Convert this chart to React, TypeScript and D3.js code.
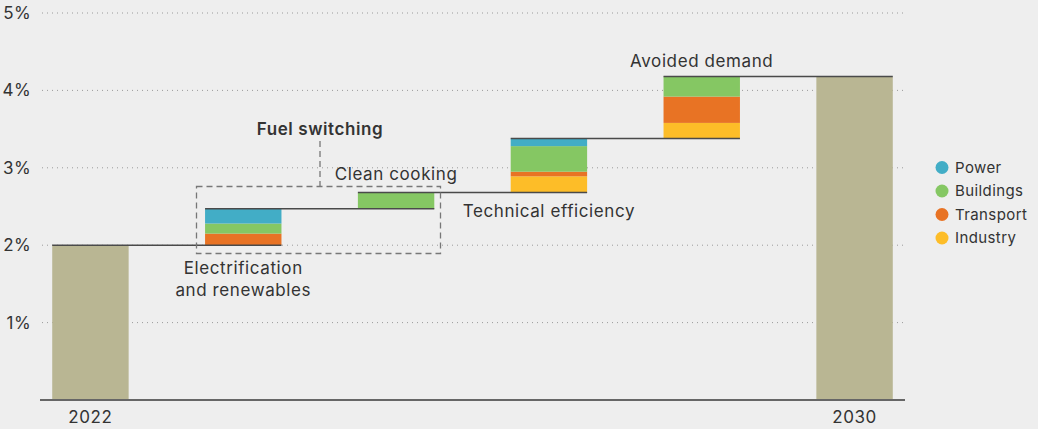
import React, { useEffect } from "react";
import * as d3 from "d3";

const categories = ["2022", "Electrification and renewables", "Clean cooking", "Technical efficiency", "Avoided demand", "2030"];
const sectors = ["Industry", "Transport", "Buildings", "Power"];
const legendOrder = ["Power", "Buildings", "Transport", "Industry"];
const sectorColors = ["#FDBD28", "#E87324", "#85C763", "#42ADC6"];
// contributions (percentage points) per step, in order Industry, Transport, Buildings, Power
const stepIndustry = [0, 0, 0.21, 0.2];
const stepTransport = [0.15, 0, 0.06, 0.34];
const stepBuildings = [0.13, 0.21, 0.33, 0.26];
const stepPower = [0.19, 0, 0.1, 0];
const startValue = 2.0;
const yTicks = [1, 2, 3, 4, 5];

const W = 1038;
const H = 429;

export default function App() {
  useEffect(() => {
    document.body.style.margin = "0";
    document.body.style.background = "#EEEEEE";
  }, []);

  const x = d3.scaleBand<string>().domain(categories).range([40, 905]).paddingInner(0.5).paddingOuter(0.08);
  const y = d3.scaleLinear().domain([0, 5]).range([400, 13]);
  const bw = x.bandwidth();
  const font = "Inter, 'Noto Sans', sans-serif";
  const textColor = "#333";
  const fs = 17;
  const ls = 0.6;

  const steps = [stepIndustry, stepTransport, stepBuildings, stepPower];
  const levels: number[] = [startValue];
  let cur = startValue;
  const segments: { cat: string; y0: number; y1: number; color: string }[] = [];
  for (let i = 0; i < 4; i++) {
    let base = cur;
    for (let s = 0; s < 4; s++) {
      const v = steps[s][i];
      if (v > 0) {
        segments.push({ cat: categories[i + 1], y0: base, y1: base + v, color: sectorColors[s] });
        base += v;
      }
    }
    cur = base;
    levels.push(cur);
  }
  const endValue = cur;

  const totals = [
    { cat: categories[0], v: startValue },
    { cat: categories[5], v: endValue },
  ];

  const bx = (c: string) => x(c) as number;

  return (
    <svg width={W} height={H} style={{ display: "block", background: "#EEEEEE" }} fontFamily={font}>
      <rect x={0} y={0} width={W} height={H} fill="#EEEEEE" />
      {yTicks.map((t) => (
        <g key={t}>
          <line x1={42} x2={905} y1={y(t)} y2={y(t)} stroke="#9a9a9a" strokeWidth={1} strokeDasharray="1 4" />
          <text x={31} y={y(t)} dy="0.35em" textAnchor="end" fontSize={fs} letterSpacing={0.4} fill={textColor}>
            {t}%
          </text>
        </g>
      ))}
      {totals.map((d) => (
        <rect key={d.cat} x={bx(d.cat)} width={bw} y={y(d.v)} height={y(0) - y(d.v)} fill="#B9B693" />
      ))}
      {segments.map((s, i) => (
        <rect key={i} x={bx(s.cat)} width={bw} y={y(s.y1)} height={y(s.y0) - y(s.y1)} fill={s.color} />
      ))}
      {levels.map((lv, i) => (
        <line
          key={i}
          x1={bx(categories[i])}
          x2={bx(categories[i + 1]) + bw}
          y1={y(lv)}
          y2={y(lv)}
          stroke="#4a4a4a"
          strokeWidth={1.5}
        />
      ))}
      <line x1={40} x2={905} y1={y(0)} y2={y(0)} stroke="#666" strokeWidth={2} />
      {[categories[0], categories[5]].map((c) => (
        <text key={c} x={bx(c) + bw / 2} y={y(0) + 23} textAnchor="middle" fontSize={fs} letterSpacing={ls} fill={textColor}>
          {c}
        </text>
      ))}
      <text x={bx(categories[4]) + bw / 2} y={y(levels[4]) - 9} textAnchor="middle" fontSize={fs} letterSpacing={ls} fill={textColor}>
        Avoided demand
      </text>
      <text x={bx(categories[3]) + bw / 2} y={y(levels[2]) + 24} textAnchor="middle" fontSize={fs} letterSpacing={ls} fill={textColor}>
        Technical efficiency
      </text>
      <text x={bx(categories[2]) + bw / 2} y={y(levels[2]) - 13} textAnchor="middle" fontSize={fs} letterSpacing={ls} fill={textColor}>
        Clean cooking
      </text>
      <text textAnchor="middle" fontSize={fs} letterSpacing={ls} fill={textColor}>
        <tspan x={bx(categories[1]) + bw / 2} y={y(startValue) + 29}>Electrification</tspan>
        <tspan x={bx(categories[1]) + bw / 2} y={y(startValue) + 51}>and renewables</tspan>
      </text>
      <rect x={196.5} y={186.5} width={244} height={67} fill="none" stroke="#777" strokeWidth={1.3} strokeDasharray="6 4" />
      <line x1={320} x2={320} y1={141} y2={186.5} stroke="#777" strokeWidth={1.3} strokeDasharray="6 4" />
      <text x={320} y={135} textAnchor="middle" fontSize={fs} letterSpacing={ls} fontWeight={600} fill={textColor}>
        Fuel switching
      </text>
      {legendOrder.map((name, i) => {
        const col = sectorColors[sectors.indexOf(name)];
        const cy = 167.5 + i * 23.5;
        return (
          <g key={name}>
            <circle cx={942} cy={cy} r={6.5} fill={col} />
            <text x={955} y={cy} dy="0.35em" fontSize={15} letterSpacing={0.4} fill={textColor}>
              {name}
            </text>
          </g>
        );
      })}
    </svg>
  );
}
